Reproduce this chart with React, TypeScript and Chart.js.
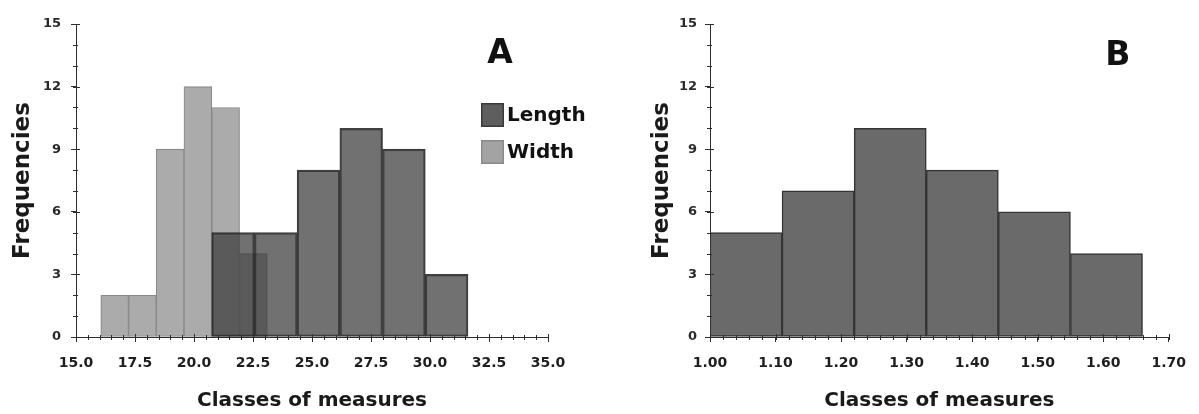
import React, { useEffect, useRef } from 'react';
import { Chart, registerables } from 'chart.js';

Chart.register(...registerables);

// ---------- Data ----------
// Panel A: Length histogram (class bounds and frequencies)
const lengthLower = [20.75, 22.56, 24.37, 26.18, 27.99, 29.8];
const lengthUpper = [22.56, 24.37, 26.18, 27.99, 29.8, 31.61];
const lengthCounts = [5, 5, 8, 10, 9, 3];
// Panel A: Width histogram
const widthLower = [16.05, 17.23, 18.4, 19.58, 20.75, 21.93];
const widthUpper = [17.23, 18.4, 19.58, 20.75, 21.93, 23.1];
const widthCounts = [2, 2, 9, 12, 11, 4];
// Panel B histogram
const ratioLower = [1.0, 1.11, 1.22, 1.33, 1.44, 1.55];
const ratioUpper = [1.11, 1.22, 1.33, 1.44, 1.55, 1.66];
const ratioCounts = [5, 7, 10, 8, 6, 4];
// Tick labels
const xTicksA = [15, 17.5, 20, 22.5, 25, 27.5, 30, 32.5, 35];
const xTicksB = [1.0, 1.1, 1.2, 1.3, 1.4, 1.5, 1.6, 1.7];
const yTicks = [0, 3, 6, 9, 12, 15];
const seriesNames = ['Length', 'Width'];
const panelLabels = ['A', 'B'];
const xTitle = 'Classes of measures';
const yTitle = 'Frequencies';

const FONT = '"DejaVu Sans", "Liberation Sans", Arial, sans-serif';
const AXIS = '#2e2e2e';

function histDataset(label: string, lower: number[], upper: number[], counts: number[], style: any) {
  return {
    label,
    data: counts.map((c, i) => ({ x: (lower[i] + upper[i]) / 2, y: c })),
    grouped: false,
    barThickness: (ctx: any) => {
      const s = ctx.chart.scales && ctx.chart.scales.x;
      if (!s || !s.width) return undefined;
      return Math.abs(s.getPixelForValue(upper[0]) - s.getPixelForValue(lower[0]));
    },
    borderSkipped: false,
    ...style,
  };
}

const decorPlugin = {
  id: 'decor',
  afterDraw(chart: any, _args: any, opts: any) {
    const { ctx, chartArea, scales } = chart;
    const x = scales.x;
    const y = scales.y;
    ctx.save();
    ctx.strokeStyle = AXIS;
    ctx.lineWidth = 1;
    ctx.beginPath();
    // minor x ticks
    const nx = Math.round((x.max - x.min) / opts.xMinor);
    for (let i = 0; i <= nx; i++) {
      const v = x.min + i * opts.xMinor;
      const px = Math.round(x.getPixelForValue(v)) + 0.5;
      const isMajor = Math.abs(v / opts.xMajor - Math.round(v / opts.xMajor)) < 1e-6;
      ctx.moveTo(px, chartArea.bottom - (isMajor ? 3 : 2));
      ctx.lineTo(px, chartArea.bottom + 3);
    }
    const ny = Math.round((y.max - y.min) / opts.yMinor);
    for (let i = 0; i <= ny; i++) {
      const v = y.min + i * opts.yMinor;
      const py = Math.round(y.getPixelForValue(v)) + 0.5;
      const isMajor = v % opts.yMajor === 0;
      ctx.moveTo(chartArea.left - 3, py);
      ctx.lineTo(chartArea.left + (isMajor ? 4 : 2), py);
    }
    ctx.stroke();

    // panel letter
    ctx.fillStyle = '#111';
    ctx.font = `bold 33px ${FONT}`;
    ctx.textAlign = 'center';
    ctx.textBaseline = 'alphabetic';
    ctx.fillText(opts.letter, chartArea.right + opts.letterDx, chartArea.top + opts.letterDy);

    // legend
    if (opts.legend) {
      ctx.font = `bold 20px ${FONT}`;
      ctx.textAlign = 'left';
      ctx.textBaseline = 'middle';
      opts.legend.forEach((item: any, i: number) => {
        const bx = chartArea.right + opts.legendDx;
        const by = chartArea.top + opts.legendDy + i * 37;
        ctx.fillStyle = item.fill;
        ctx.fillRect(bx, by, 23, 24);
        ctx.strokeStyle = item.stroke;
        ctx.lineWidth = 1.5;
        ctx.strokeRect(bx + 0.75, by + 0.75, 21.5, 22.5);
        ctx.fillStyle = '#111';
        ctx.fillText(item.text, bx + 26, by + 13);
      });
    }
    ctx.restore();
  },
};

function makeOptions(p: {
  xmin: number; xmax: number; xTicks: number[]; decimals: number;
  yAxisWidth: number; yTitlePad: number; yTickPad: number; padRight: number; decor: any;
}) {
  return {
    responsive: false,
    maintainAspectRatio: false,
    animation: false,
    devicePixelRatio: 1,
    layout: { padding: { top: 24, right: p.padRight, left: 0, bottom: 0 } },
    plugins: {
      legend: { display: false },
      tooltip: { enabled: false },
      decor: p.decor,
    },
    scales: {
      x: {
        type: 'linear',
        min: p.xmin,
        max: p.xmax,
        offset: false,
        afterBuildTicks: (s: any) => { s.ticks = p.xTicks.map((v) => ({ value: v })); },
        afterFit: (s: any) => { s.height = 77; },
        ticks: {
          autoSkip: false,
          maxRotation: 0,
          padding: 13,
          color: '#1e1e1e',
          font: { family: FONT, size: 14, weight: 'bold' },
          callback: (v: any) => Number(v).toFixed(p.decimals),
        },
        grid: { display: true, drawOnChartArea: false, drawTicks: true, tickLength: 5, tickColor: AXIS, offset: false },
        border: { display: true, color: AXIS, width: 1 },
        title: {
          display: true,
          text: xTitle,
          color: '#1a1a1a',
          font: { family: FONT, size: 20, weight: 'bold' },
          padding: { top: 0, bottom: 1 },
        },
      },
      y: {
        type: 'linear',
        min: 0,
        max: 15,
        stacked: false,
        afterBuildTicks: (s: any) => { s.ticks = yTicks.map((v) => ({ value: v })); },
        afterFit: (s: any) => { s.width = p.yAxisWidth; },
        ticks: {
          padding: p.yTickPad,
          color: '#2a2a2a',
          font: { family: FONT, size: 13, weight: 'bold' },
        },
        grid: { display: true, drawOnChartArea: false, drawTicks: true, tickLength: 5, tickColor: AXIS },
        border: { display: true, color: AXIS, width: 1 },
        title: {
          display: true,
          text: yTitle,
          color: '#1a1a1a',
          font: { family: FONT, size: 23, weight: 'bold' },
          padding: { top: p.yTitlePad, bottom: 0 },
        },
      },
    },
  };
}

function configA() {
  return {
    type: 'bar',
    data: {
      datasets: [
        histDataset(seriesNames[0], lengthLower, lengthUpper, lengthCounts, {
          backgroundColor: 'rgba(58,58,58,0.72)',
          borderColor: 'rgba(30,30,30,0.85)',
          borderWidth: 1.5,
        }),
        histDataset(seriesNames[1], widthLower, widthUpper, widthCounts, {
          backgroundColor: '#ababab',
          borderColor: '#8a8a8a',
          borderWidth: 1.2,
        }),
      ],
    },
    options: makeOptions({
      xmin: 15, xmax: 35, xTicks: xTicksA, decimals: 1,
      yAxisWidth: 76, yTitlePad: 9, yTickPad: 10, padRight: 52,
      decor: {
        xMinor: 0.5, xMajor: 2.5, yMinor: 1, yMajor: 3,
        letter: panelLabels[0], letterDx: -48, letterDy: 39,
        legend: [
          { text: seriesNames[0], fill: '#5e5e5e', stroke: '#3a3a3a' },
          { text: seriesNames[1], fill: '#a3a3a3', stroke: '#8a8a8a' },
        ],
        legendDx: -67, legendDy: 79,
      },
    }),
    plugins: [decorPlugin],
  };
}

function configB() {
  return {
    type: 'bar',
    data: {
      datasets: [
        histDataset('Classes', ratioLower, ratioUpper, ratioCounts, {
          backgroundColor: '#6a6a6a',
          borderColor: '#353535',
          borderWidth: 1.5,
        }),
      ],
    },
    options: makeOptions({
      xmin: 1.0, xmax: 1.7, xTicks: xTicksB, decimals: 2,
      yAxisWidth: 110, yTitlePad: 48, yTickPad: 8, padRight: 17,
      decor: {
        xMinor: 0.02, xMajor: 0.1, yMinor: 1, yMajor: 3,
        letter: panelLabels[1], letterDx: -51, letterDy: 41,
      },
    }),
    plugins: [decorPlugin],
  };
}

function ChartCanvas({ make, left, width }: { make: () => any; left: number; width: number }) {
  const ref = useRef<HTMLCanvasElement>(null);
  useEffect(() => {
    const chart = new Chart(ref.current as HTMLCanvasElement, make());
    return () => chart.destroy();
  }, []);
  return (
    <canvas
      ref={ref}
      width={width}
      height={414}
      style={{ position: 'absolute', left, top: 0, width, height: 414 }}
    />
  );
}

export default function App() {
  return (
    <div style={{ position: 'absolute', left: 0, top: 0, width: 1199, height: 414, background: '#fff', overflow: 'hidden' }}>
      <ChartCanvas make={configA} left={0} width={600} />
      <ChartCanvas make={configB} left={600} width={599} />
    </div>
  );
}
